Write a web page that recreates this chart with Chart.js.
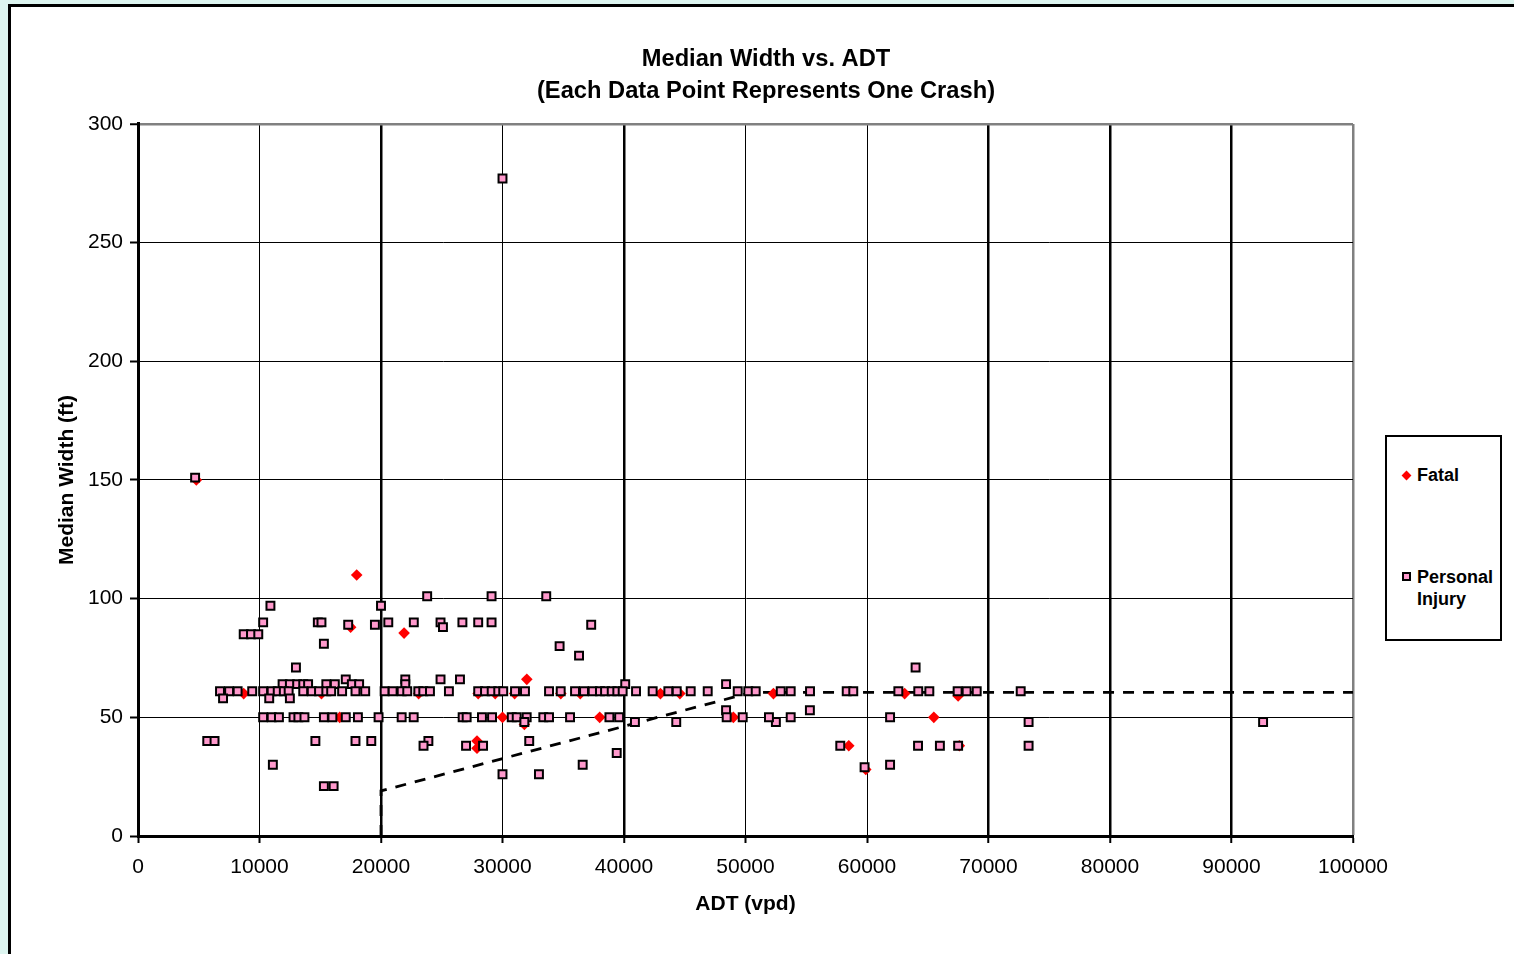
<!DOCTYPE html>
<html lang="en">
<head>
  <meta charset="UTF-8" />
  <title>Median Width vs. ADT</title>
  <script src="https://cdn.jsdelivr.net/npm/chart.js"></script>
  <style>
    body { margin:0; background:#ddf5f0; overflow:hidden; font-family:"Liberation Sans", Arial, sans-serif; }
    .frame { position:absolute; left:8px; top:4px; width:1520px; height:960px; background:#fff; border-left:3px solid #000; border-top:3px solid #000; }
    canvas { position:absolute; left:0; top:0; }
    .legend { position:absolute; left:1385px; top:435px; width:113px; height:202px; border:2px solid #000; background:#fff; font-weight:bold; font-size:18px; color:#000; }
    .item { position:absolute; left:30px; line-height:22px; }
    .diamond { position:absolute; width:7px; height:7px; background:#ff0000; transform:rotate(45deg); }
    .square { position:absolute; width:5px; height:5px; background:#ff99cc; border:2px solid #000; }
  </style>
</head>
<body>
<div class="frame">
  <canvas id="chart" width="1510" height="947"></canvas>
</div>
<div class="legend">
  <span class="diamond" style="left:16px;top:35px"></span>
  <div class="item" style="top:27px">Fatal</div>
  <span class="square" style="left:15px;top:135px"></span>
  <div class="item" style="top:129px">Personal<br>Injury</div>
</div>

<script>
const injuryX = [
  4700, 30000,
  10900, 20000,
  10300, 14800, 15100, 17300, 19500, 20600,
  8700, 9300, 9900, 15300, 13000,
  11900, 12500, 13100, 13600, 14000, 15500, 16200, 17100, 17600, 18200,
  6750, 7500, 8200, 9400, 10300, 11000, 11500, 12000, 12400, 13600, 14300, 14900, 15500, 15900, 16800, 17900, 18700, 20300,
  7000, 10800, 12500,
  10300, 11000, 11600, 12800, 13200, 13700, 15300, 16000, 17100, 18100, 19800,
  5700, 6300, 14600, 17900, 19200,
  11100, 15300, 16100,
  23800, 29100, 33600,
  22700, 24900, 26700, 28000, 29100, 25100,
  37300, 34700, 36300,
  22000, 22000, 24900, 26500, 40100,
  20960, 21700, 22160, 23070, 23480, 24030, 25590, 28000, 28560, 29110, 29650, 30060, 31030, 31850, 33830, 34790, 35970, 36710, 37420, 38020, 38440, 38990, 39450, 39890,
  21700, 22690, 26720, 27050, 28310, 29140, 30760, 31170, 31990, 33360, 33830, 35560, 38800, 39600,
  31800, 23900, 23500, 27000, 28400, 32200,
  39400, 36600, 30000, 33000,
  40990, 42360, 43650, 44340, 45490, 46890, 49360, 50230, 50840, 52900, 53720, 55310, 58330, 58870,
  48400, 48400,
  40900, 44300, 52500, 55300,
  48450, 49770, 51930, 53720,
  57800, 59800,
  62580, 64220, 65130, 67460, 68200, 69030, 72650,
  64000, 61900, 73300, 73300, 64200, 66000, 67500, 61900,
  92600
];
const injuryY = [
  151, 277,
  97, 97,
  90, 90, 90, 89, 89, 90,
  85, 85, 85, 81, 71,
  64, 64, 64, 64, 64, 64, 64, 66, 64, 64,
  61, 61, 61, 61, 61, 61, 61, 61, 61, 61, 61, 61, 61, 61, 61, 61, 61, 61,
  58, 58, 58,
  50, 50, 50, 50, 50, 50, 50, 50, 50, 50, 50,
  40, 40, 40, 40, 40,
  30, 21, 21,
  101, 101, 101,
  90, 90, 90, 90, 90, 88,
  89, 80, 76,
  66, 64, 66, 66, 64,
  61, 61, 61, 61, 61, 61, 61, 61, 61, 61, 61, 61, 61, 61, 61, 61, 61, 61, 61, 61, 61, 61, 61, 61,
  50, 50, 50, 50, 50, 50, 50, 50, 50, 50, 50, 50, 50, 50,
  48, 40, 38, 38, 38, 40,
  35, 30, 26, 26,
  61, 61, 61, 61, 61, 61, 61, 61, 61, 61, 61, 61, 61, 61,
  64, 53,
  48, 48, 48, 53,
  50, 50, 50, 50,
  38, 29,
  61, 61, 61, 61, 61, 61, 61,
  71, 50, 48, 38, 38, 38, 38, 30,
  48
];
const fatalX = [18000, 21900, 32000, 4800, 17500, 8700, 15100, 16600, 23100, 28000, 29400, 31000, 34800, 36400, 30000, 31800, 38000, 27900, 27900, 43000, 44600, 52300, 58500, 59900, 63100, 67500, 65500, 49000, 67600];
const fatalY = [110, 85.5, 66, 150, 88, 60, 60, 50, 60, 60, 60, 60, 60, 60, 50, 47, 50, 40, 37, 60, 60, 60, 38, 28, 60, 59, 50, 50, 38];
const lineX = [20000, 20000, 50500, 100000];
const lineY = [0, 19, 60.5, 60.5];
const xTicks = [0, 10000, 20000, 30000, 40000, 50000, 60000, 70000, 80000, 90000, 100000];
const heavyX = [20000, 40000, 70000, 80000, 90000];

const pts = (xs, ys) => xs.map((x, i) => ({x, y: ys[i]}));
const font = {family: '"Liberation Sans", Arial, sans-serif'};

new Chart(document.getElementById('chart'), {
  type: 'scatter',
  data: {
    datasets: [
      {label:'Personal Injury', data:pts(injuryX, injuryY), yAxisID:'y', pointStyle:'rect', pointRadius:5.6, pointHoverRadius:5.6,
       backgroundColor:'#ff99cc', borderColor:'#000', borderWidth:2},
      {label:'Fatal', data:pts(fatalX, fatalY), yAxisID:'y', pointStyle:'rectRot', pointRadius:5.8, pointHoverRadius:5.8,
       backgroundColor:'#ff0000', borderColor:'#ff0000', borderWidth:0},
      {label:'Threshold', data:pts(lineX, lineY), yAxisID:'y', showLine:true, pointRadius:0, borderColor:'#000',
       borderWidth:2.8, borderDash:[11, 9], fill:false}
    ]
  },
  options: {
    responsive: false,
    animation: false,
    layout: {padding: 0},
    plugins: {
      legend: {display: false},
      tooltip: {enabled: false},
      title: {display: true, text: ['Median Width vs. ADT', '(Each Data Point Represents One Crash)'], color: '#000',
        font: {...font, size: 23.7, weight: 'bold', lineHeight: 1.35}, padding: {top: 36, bottom: 17}}
    },
    scales: {
      x: {
        type: 'linear', min: 0, max: 100000,
        afterBuildTicks: s => { s.ticks = xTicks.map(v => ({value: v})); },
        afterFit: s => { s.height = 118; },
        ticks: {color: '#000', font: {...font, size: 21}, padding: 12, maxRotation: 0, callback: v => String(v)},
        grid: {
          color: c => c.tick && c.tick.value === 100000 ? '#808080' : '#000',
          lineWidth: c => c.tick && c.tick.value === 100000 ? 2.5 : (c.tick && heavyX.includes(c.tick.value) ? 2.5 : 1),
          tickLength: 7, tickColor: '#000', tickWidth: 2
        },
        border: {color: '#000', width: 3},
        title: {display: true, text: 'ADT (vpd)', color: '#000', font: {...font, size: 21, weight: 'bold'}, padding: {top: 0, bottom: 37}}
      },
      y: {
        type: 'linear', position: 'left', min: 0, max: 300,
        afterFit: s => { s.width = 127; },
        ticks: {stepSize: 50, color: '#000', font: {...font, size: 21}, padding: 7},
        grid: {
          color: c => c.tick && c.tick.value === 300 ? '#808080' : '#000',
          lineWidth: c => c.tick && c.tick.value === 300 ? 2.5 : 1,
          tickLength: 8, tickColor: '#000', tickWidth: 2
        },
        border: {color: '#000', width: 3},
        title: {display: true, text: 'Median Width (ft)', color: '#000', font: {...font, size: 21, weight: 'bold'}, padding: {top: 44, bottom: 0}}
      },
      y2: {
        type: 'linear', position: 'right', min: 0, max: 1,
        afterFit: s => { s.width = 168; },
        ticks: {display: false},
        grid: {display: false, drawTicks: false},
        border: {display: false}
      }
    }
  }
});
</script>
</body>
</html>
